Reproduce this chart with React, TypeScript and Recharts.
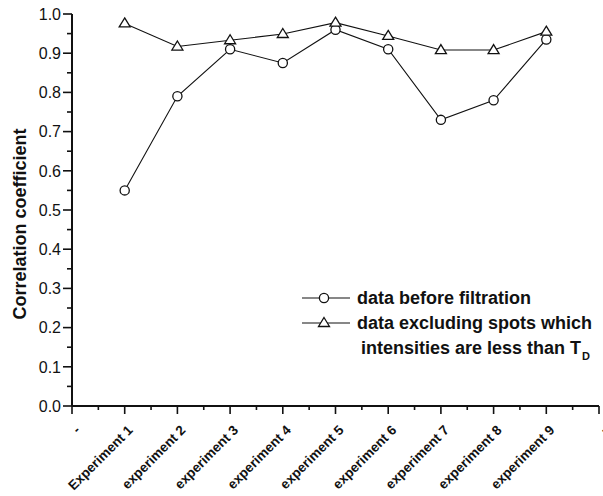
import React from "react";
import { LineChart, Line, XAxis, YAxis, Legend } from "recharts";

const categories = [
  "-",
  "Experiment 1",
  "experiment 2",
  "experiment 3",
  "experiment 4",
  "experiment 5",
  "experiment 6",
  "experiment 7",
  "experiment 8",
  "experiment 9",
  "-",
];
const experimentIndex = [1, 2, 3, 4, 5, 6, 7, 8, 9];
const beforeFiltration = [0.55, 0.79, 0.91, 0.875, 0.96, 0.91, 0.73, 0.78, 0.935];
const excludingSpots = [0.976, 0.917, 0.933, 0.949, 0.978, 0.944, 0.908, 0.908, 0.955];
const xTicks = [0, 0.5, 1, 1.5, 2, 2.5, 3, 3.5, 4, 4.5, 5, 5.5, 6, 6.5, 7, 7.5, 8, 8.5, 9, 9.5, 10];
const yTicks = [0, 0.05, 0.1, 0.15, 0.2, 0.25, 0.3, 0.35, 0.4, 0.45, 0.5, 0.55, 0.6, 0.65, 0.7, 0.75, 0.8, 0.85, 0.9, 0.95, 1.0];
const seriesNames = ["data before filtration", "data excluding spots which", "intensities are less than T"];

const data = experimentIndex.map((x, i) => ({
  x,
  before: beforeFiltration[i],
  excluding: excludingSpots[i],
}));

const FONT = "'Liberation Sans', Arial, sans-serif";
const INK = "#111";

const XTick = (props: any) => {
  const { x, y, payload } = props;
  const v = payload.value;
  const major = Math.abs(v - Math.round(v)) < 1e-6;
  const ax = x + 9;
  const ay = y + 25;
  return (
    <g>
      <line x1={x} y1={y} x2={x} y2={y + (major ? 8 : 4)} stroke={INK} strokeWidth={1.6} />
      {major && (
        <text
          x={ax}
          y={ay}
          transform={`rotate(-45 ${ax} ${ay})`}
          textAnchor="end"
          fontFamily={FONT}
          fontWeight="bold"
          fontSize={13.5}
          fill={INK}
        >
          {categories[Math.round(v)]}
        </text>
      )}
    </g>
  );
};

const YTick = (props: any) => {
  const { x, y, payload } = props;
  const v = payload.value;
  const major = Math.round(v * 20) % 2 === 0;
  return (
    <g>
      <line x1={x} y1={y} x2={x - (major ? 9 : 5)} y2={y} stroke={INK} strokeWidth={1.6} />
      {major && (
        <text
          x={x - 11}
          y={y}
          dy="0.36em"
          textAnchor="end"
          fontFamily={FONT}
          fontSize={16}
          fill={INK}
        >
          {v.toFixed(1)}
        </text>
      )}
    </g>
  );
};

const Triangle = (props: any) => {
  const { cx, cy } = props;
  if (cx == null || cy == null) return null;
  return (
    <path
      d={`M${cx},${cy - 5.5} L${cx + 5.5},${cy + 3.5} L${cx - 5.5},${cy + 3.5} Z`}
      fill="#fff"
      stroke={INK}
      strokeWidth={1.3}
    />
  );
};

const Circle = (props: any) => {
  const { cx, cy } = props;
  if (cx == null || cy == null) return null;
  return <circle cx={cx} cy={cy} r={4.6} fill="#fff" stroke={INK} strokeWidth={1.3} />;
};

const YTitle = (props: any) => {
  const vb = props.viewBox || {};
  const cx = vb.x + 20;
  const cy = vb.y + vb.height / 2 + 14;
  return (
    <text
      x={cx}
      y={cy}
      transform={`rotate(-90 ${cx} ${cy})`}
      textAnchor="middle"
      dy="0.36em"
      fontFamily={FONT}
      fontSize={18}
      fontWeight="bold"
      fill={INK}
    >
      Correlation coefficient
    </text>
  );
};

const LegendContent = () => {
  const textStyle = { fontFamily: FONT, fontSize: 18, fontWeight: "bold" as const, fill: INK };
  return (
    <svg width={310} height={80} style={{ display: "block" }}>
      <line x1={6} y1={12} x2={54} y2={12} stroke={INK} strokeWidth={1.2} />
      <circle cx={28} cy={12} r={4.6} fill="#fff" stroke={INK} strokeWidth={1.3} />
      <text x={61} y={12} dy="0.36em" {...textStyle}>{seriesNames[0]}</text>
      <line x1={6} y1={37} x2={54} y2={37} stroke={INK} strokeWidth={1.2} />
      <path d="M28,31.5 L33.5,40.5 L22.5,40.5 Z" fill="#fff" stroke={INK} strokeWidth={1.3} />
      <text x={61} y={37} dy="0.36em" {...textStyle}>{seriesNames[1]}</text>
      <text x={65} y={62} dy="0.36em" {...textStyle}>
        {seriesNames[2]}
        <tspan fontSize={11} dy={6} dx={1}>D</tspan>
      </text>
    </svg>
  );
};

export default function App() {
  return (
    <div style={{ position: "absolute", left: 0, top: 0, width: 603, height: 496, background: "#fff" }}>
      <LineChart width={603} height={496} data={data} margin={{ top: 14, right: 4, left: 0, bottom: 0 }}>
        <XAxis
          type="number"
          dataKey="x"
          domain={[0, 10]}
          ticks={xTicks}
          interval={0}
          tickSize={0}
          tickMargin={0}
          tickLine={false}
          height={90}
          axisLine={{ stroke: INK, strokeWidth: 2 }}
          tick={<XTick />}
        />
        <YAxis
          type="number"
          domain={[0, 1]}
          ticks={yTicks}
          interval={0}
          tickSize={0}
          tickMargin={0}
          tickLine={false}
          width={72}
          axisLine={{ stroke: INK, strokeWidth: 2 }}
          tick={<YTick />}
          label={<YTitle />}
        />
        <Legend
          layout="horizontal"
          verticalAlign="middle"
          align="center"
          content={<LegendContent />}
          wrapperStyle={{ position: "absolute", left: 296, top: 286, width: 310, height: 80 }}
        />
        <Line
          dataKey="before"
          stroke={INK}
          strokeWidth={1.1}
          dot={<Circle />}
          activeDot={false}
          isAnimationActive={false}
        />
        <Line
          dataKey="excluding"
          stroke={INK}
          strokeWidth={1.1}
          dot={<Triangle />}
          activeDot={false}
          isAnimationActive={false}
        />
      </LineChart>
    </div>
  );
}
